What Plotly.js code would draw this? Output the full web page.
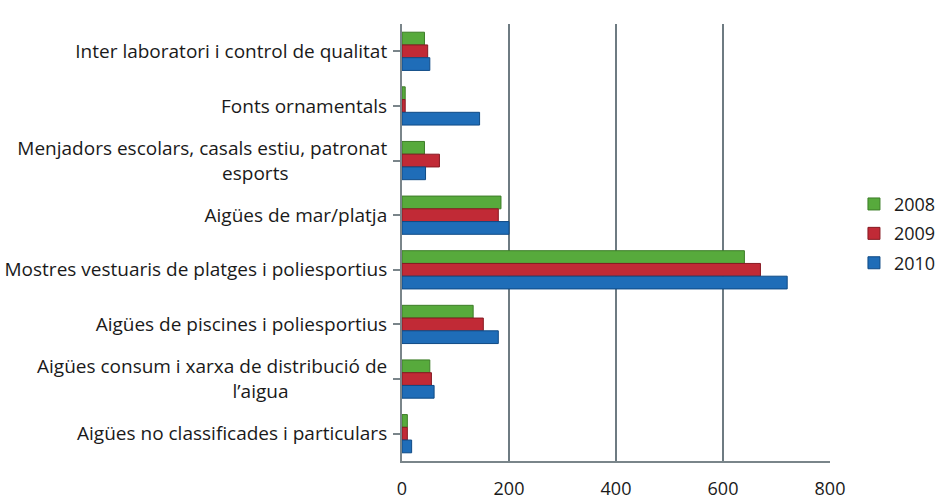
<!DOCTYPE html>
<html>
<head>
<meta charset="utf-8">
<script src="https://cdn.plot.ly/plotly-3.0.1.min.js"></script>
<style>html,body{margin:0;padding:0;background:#fff;}#chart{width:942px;height:500px;}</style>
</head>
<body>
<div id="chart"></div>
<script>
// categories listed top to bottom
var categories = [
  "Inter laboratori i control de qualitat",
  "Fonts ornamentals",
  "Menjadors escolars, casals estiu, patronat<br>esports",
  "Aigües de mar/platja",
  "Mostres vestuaris de platges i poliesportius",
  "Aigües de piscines i poliesportius",
  "Aigües consum i xarxa de distribució de<br>l’aigua",
  "Aigües no classificades i particulars"
];
var tickLabels = [
  "Inter laboratori i control de qualitat",
  "Fonts ornamentals",
  "Menjadors escolars, casals estiu, patronat<br>esports" + "\u00a0".repeat(20),
  "Aigües de mar/platja",
  "Mostres vestuaris de platges i poliesportius",
  "Aigües de piscines i poliesportius",
  "Aigües consum i xarxa de distribució de<br>l’aigua" + "\u00a0".repeat(20),
  "Aigües no classificades i particulars"
];
var values2008 = [42, 6, 42, 185, 640, 133, 52, 10];
var values2009 = [48, 6, 70, 180, 670, 152, 55, 10];
var values2010 = [52, 145, 44, 200, 720, 180, 60, 18];
var xTicks = [0, 200, 400, 600, 800];

var font = "'Open Sans', Lato, sans-serif";
function tr(name, vals, color, line) {
  return {type: "bar", orientation: "h", name: name, y: categories, x: vals, legendgroup: name,
    marker: {color: color, line: {color: line, width: 1}}};
}
var data = [
  tr("2008", values2008, "#57aa3c", "#3d7d28"),
  tr("2009", values2009, "#c12a36", "#861a22"),
  tr("2010", values2010, "#1f6db8", "#0f4a85")
];
var layout = {
  width: 942, height: 500,
  margin: {l: 402, r: 112, t: 24, b: 39, autoexpand: false},
  paper_bgcolor: "#fff", plot_bgcolor: "#fff",
  barmode: "group", bargap: 0.3, bargroupgap: 0,
  font: {family: font, size: 19, color: "#1a1a1a"},
  xaxis: {range: [0, 800], tickvals: xTicks, showgrid: true, gridcolor: "#6e7b82", gridwidth: 2,
    zeroline: false, showline: true, linecolor: "#7a858a", linewidth: 2,
    ticks: "", ticklabelstandoff: 10, tickfont: {size: 18, color: "#1a1a1a"}, fixedrange: true},
  yaxis: {type: "category", autorange: "reversed", tickvals: categories, ticktext: tickLabels,
    showgrid: false, zeroline: false, showline: true, linecolor: "#7a858a", linewidth: 2,
    ticks: "outside", ticklen: 7, tickcolor: "#7a858a", tickwidth: 2, ticklabelstandoff: 2,
    tickfont: {size: 19, color: "#1a1a1a"}, automargin: false},
  legend: {x: 1.056, y: 0.52, xanchor: "left", yanchor: "middle", traceorder: "grouped",
    tracegroupgap: 3, font: {size: 18, color: "#1a1a1a"}, itemwidth: 30},
  showlegend: true
};
Plotly.newPlot("chart", data, layout, {displayModeBar: false, staticPlot: true});
</script>
</body>
</html>
